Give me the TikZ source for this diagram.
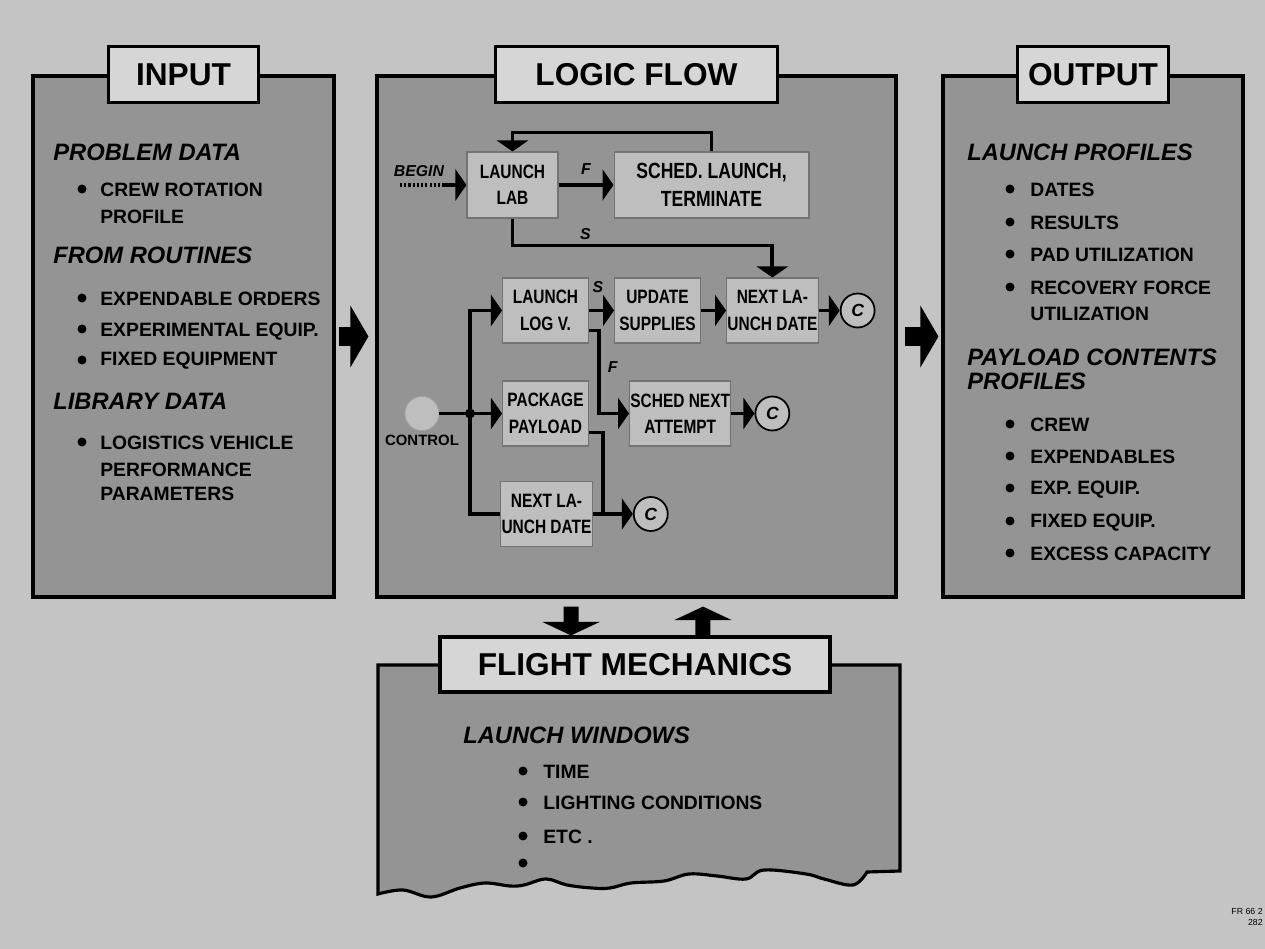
\documentclass[tikz,border=0pt]{standalone}
\usepackage{fontspec}
\setmainfont{Liberation Sans}
\newfontfamily\narrowfont{Liberation Sans}[FakeStretch=0.8]
\usepackage{tikz}
\usetikzlibrary{positioning}
\usetikzlibrary{arrows.meta}
\usetikzlibrary{fit}
\definecolor{paper}{RGB}{196,196,196}
\definecolor{panelgrey}{RGB}{148,148,148}
\definecolor{boxgrey}{RGB}{190,190,190}
\definecolor{titlegrey}{RGB}{214,214,214}

\begin{document}
\begin{tikzpicture}[x=0.02cm, y=-0.02cm,
        panel/.style={draw, line width=1.8pt, fill=panelgrey, inner sep=0pt},
        titlebox/.style={draw, line width=1.8pt, fill=titlegrey, minimum height=1.12cm, font=\bfseries\fontsize{18}{22}\selectfont},
        head/.style={anchor=west, inner sep=0pt, font=\bfseries\itshape\fontsize{13.5}{16}\selectfont},
        item/.style={anchor=west, inner sep=0pt, font=\bfseries\fontsize{11}{13}\selectfont},
        bulletdot/.style={circle, fill=black, inner sep=0pt, minimum size=0.18cm},
        internal/.style={draw=black!55, line width=0.6pt, fill=boxgrey, align=center, minimum width=1.72cm, minimum height=1.3cm, inner sep=0.5pt, font=\narrowfont\bfseries\fontsize{11}{15}\selectfont},
        conn/.style={circle, draw, line width=1pt, fill=boxgrey, minimum size=0.68cm, inner sep=0pt, font=\bfseries\itshape\fontsize{10}{12}\selectfont},
        flab/.style={inner sep=2pt, font=\bfseries\itshape\fontsize{9}{11}\selectfont},
        line/.style={line width=2.2pt},
        flow/.style={line width=2.2pt, -{Triangle[length=0.22cm, width=0.62cm]}},
        bigarrow/.style={line width=0.4cm, -{Triangle[length=0.36cm, width=1.22cm]}},
        vertarrow/.style={line width=0.3cm, -{Triangle[length=0.27cm, width=1.14cm]}}]
    \useasboundingbox (0,0) rectangle (1265,949);
    \fill[paper] (0,0) rectangle (1265,949);

    % the three panels
    \node[panel, fit={(33,76) (334,597)}] (input) {};
    \node[panel, fit={(377,76) (896,597)}] (logic) {};
    \node[panel, fit={(943,76) (1243,597)}] (output) {};
    \node[titlebox, minimum width=3cm] (inputtitle) at (input.north) {INPUT};
    \node[titlebox, minimum width=5.64cm] (logictitle) at (logic.north) {LOGIC FLOW};
    \node[titlebox, minimum width=3.02cm] (outputtitle) at (output.north) {OUTPUT};

    % flight mechanics sheet, torn at the bottom
    \draw[line width=1.8pt, fill=panelgrey] (378,665) -- (900,665) -- (900,871)
        -- plot[smooth, tension=0.6] coordinates {(867,872) (853,885) (824,879) (806,874) (764,870) (746,879) (717,876) (689,874) (664,881) (631,883) (610,888) (592,888) (567,885) (546,879) (524,885) (510,886) (485,883) (460,888) (431,897) (403,890) (378,894)}
        -- cycle;
    \node[titlebox, minimum width=7.8cm, minimum height=1.1cm] (fmtitle) at (635,664.5) {FLIGHT MECHANICS};

    % input
    \node[head] (probdata) at (53,152) {PROBLEM DATA};
    \node[item] (crew) at (100,190) {CREW ROTATION};
    \node[item] (crewb) at (100,217) {PROFILE};
    \node[head] (routines) at (53,255) {FROM ROUTINES};
    \node[item] (exporders) at (100,299) {EXPENDABLE ORDERS};
    \node[item] (expequip) at (100,332) {EXPERIMENTAL EQUIP.};
    \node[item] (fixequip) at (100,361) {FIXED EQUIPMENT};
    \node[head] (library) at (53,401) {LIBRARY DATA};
    \node[item] (logveh) at (100,443) {LOGISTICS VEHICLE};
    \node[item] (logvehb) at (100,470) {PERFORMANCE};
    \node[item] (logvehc) at (100,494) {PARAMETERS};
    \node[bulletdot] (crewdot) at (82,189) {};
    \node[bulletdot] (exporddot) at (82,298) {};
    \node[bulletdot] (expeqdot) at (82,329) {};
    \node[bulletdot] (fixeqdot) at (82,360) {};
    \node[bulletdot] (logvehdot) at (82,442) {};

    % output
    \node[head] (launchprof) at (967,152) {LAUNCH PROFILES};
    \node[item] (dates) at (1030,190) {DATES};
    \node[item] (results) at (1030,223) {RESULTS};
    \node[item] (padutil) at (1030,255) {PAD UTILIZATION};
    \node[item] (recovery) at (1030,288) {RECOVERY FORCE};
    \node[item] (recoveryb) at (1030,314) {UTILIZATION};
    \node[head] (payprof) at (967,357) {PAYLOAD CONTENTS};
    \node[head] (payprofb) at (967,381) {PROFILES};
    \node[item] (crewout) at (1030,425) {CREW};
    \node[item] (expend) at (1030,457) {EXPENDABLES};
    \node[item] (expeqout) at (1030,490) {EXP. EQUIP.};
    \node[item] (fixeqout) at (1030,523) {FIXED EQUIP.};
    \node[item] (excess) at (1030,554) {EXCESS CAPACITY};
    \node[bulletdot] (datesdot) at (1010,189) {};
    \node[bulletdot] (resultsdot) at (1010,222) {};
    \node[bulletdot] (paddot) at (1010,254) {};
    \node[bulletdot] (recdot) at (1010,287) {};
    \node[bulletdot] (crewoutdot) at (1010,424) {};
    \node[bulletdot] (expenddot) at (1010,456) {};
    \node[bulletdot] (expeqoutdot) at (1010,488) {};
    \node[bulletdot] (fixeqoutdot) at (1010,521) {};
    \node[bulletdot] (excessdot) at (1010,553) {};

    % flight mechanics
    \node[head] (windows) at (463,735) {LAUNCH WINDOWS};
    \node[item] (time) at (543,772) {TIME};
    \node[item] (lighting) at (543,803) {LIGHTING CONDITIONS};
    \node[item] (etc) at (543,837) {ETC .};
    \node[bulletdot] (timedot) at (523,771) {};
    \node[bulletdot] (lightdot) at (523,802) {};
    \node[bulletdot] (etcdot) at (523,836) {};
    \node[bulletdot] (moredot) at (523,863) {};

    % logic flow
    \node[internal, minimum width=1.82cm, minimum height=1.32cm] (launchlab) at (512.5,185) {LAUNCH\\LAB};
    \node[internal, minimum width=3.9cm, minimum height=1.32cm, right=1.1cm of launchlab, font=\narrowfont\bfseries\fontsize{12.5}{16}\selectfont] (schedlaunch) {SCHED. LAUNCH,\\TERMINATE};
    \node[internal] (loglv) at (545.5,310.5) {LAUNCH\\LOG V.};
    \node[internal, right=0.5cm of loglv] (update) {UPDATE\\SUPPLIES};
    \node[internal, right=0.5cm of update] (nextone) {NEXT LA-\\UNCH DATE};
    \node[conn, right=0.42cm of nextone] (cone) {C};
    \node[internal] (package) at (545.5,413.5) {PACKAGE\\PAYLOAD};
    \node[internal, right=0.8cm of package] (schednext) {SCHED NEXT\\ATTEMPT};
    \node[conn, right=0.46cm of schednext] (ctwo) {C};
    \node[internal] (nexttwo) at (546.5,514) {NEXT LA-\\UNCH DATE};
    \node[conn, right=0.8cm of nexttwo] (cthree) {C};
    \node[circle, fill=boxgrey, draw=black!35, minimum size=0.68cm] (control) at (422,413.5) {};
    \node[inner sep=1pt, below=0.05cm of control, font=\bfseries\fontsize{8.5}{10}\selectfont] (controllabel) {CONTROL};
    \coordinate (junction) at (470,413.5);
    \coordinate (beginpt) at (400,185);
    \coordinate (beginmid) at (442,185);
    \coordinate (merge) at (603,514);
    \node[flab] (beginlabel) at (419,171) {BEGIN};

    \draw[line width=2.2pt, dash pattern=on 1.2pt off 1.2pt] (beginpt) -- (beginmid);
    \draw[flow] (beginmid) -- (launchlab.west);
    \draw[flow] (launchlab) -- node[flab, above=3pt] {F} (schedlaunch);
    \draw[flow] (schedlaunch.north) -- ++(0,-19) -| (launchlab.north);
    \draw[flow] (launchlab.south) -- ++(0,27) -| node[flab, pos=0.14, above] {S} (nextone.north);
    \draw[flow] (loglv) -- node[flab, above=7pt, xshift=-2pt] {S} (update);
    \draw[flow] (update) -- (nextone);
    \draw[flow] (nextone) -- (cone);
    \draw[flow] ([yshift=-0.4cm]loglv.east) -- ++(10,0) |- node[flab, pos=0.22, right=2pt] {F} (schednext.west);
    \draw[flow] (schednext) -- (ctwo);
    \draw[line] (control) -- (junction);
    \draw[flow] (junction) |- (loglv.west);
    \draw[flow] (junction) -- (package.west);
    \draw[line] (junction) |- (nexttwo.west);
    \node[bulletdot, minimum size=0.2cm] (junctiondot) at (junction) {};
    \draw[line] ([yshift=-0.38cm]package.east) -| (merge);
    \draw[flow] (nexttwo) -- (cthree);

    % arrows between the sheets
    \draw[bigarrow, shorten <=0.06cm, shorten >=0.14cm] (input) -- (logic);
    \draw[bigarrow, shorten <=0.14cm, shorten >=0.06cm] (logic) -- (output);
    \draw[vertarrow, shorten <=0.16cm] ([xshift=-1.31cm]logic.south) -- ([xshift=-1.28cm]fmtitle.north);
    \draw[vertarrow, shorten >=0.16cm] ([xshift=1.36cm]fmtitle.north) -- ([xshift=1.33cm]logic.south);

    \node[anchor=east, align=right, inner sep=0pt, font=\fontsize{5}{6}\selectfont] (fileno) at (1263,917) {FR 66 2\\282};
\end{tikzpicture}
\end{document}
